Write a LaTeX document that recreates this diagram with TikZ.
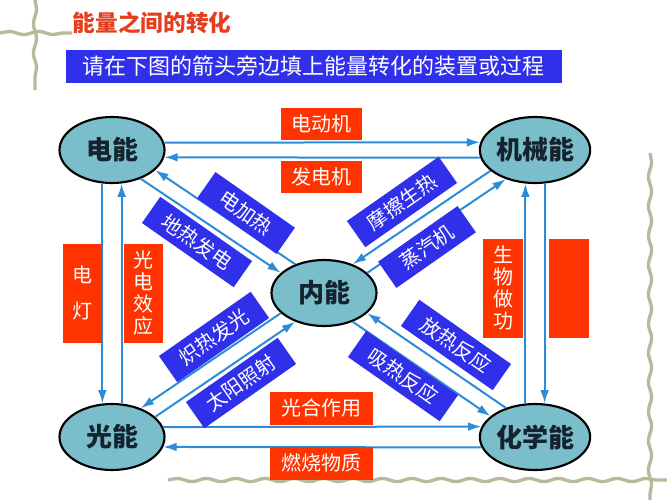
\documentclass[tikz,border=0pt]{standalone}
\usepackage{fontspec}
\newfontfamily\cjk{Noto Sans CJK SC}
\usetikzlibrary{arrows.meta,shapes.geometric,decorations.pathmorphing}
\definecolor{enfill}{RGB}{122,190,204}
\definecolor{boxred}{RGB}{255,51,0}
\definecolor{boxblue}{RGB}{48,48,235}
\definecolor{linkblue}{RGB}{45,140,215}
\definecolor{titlered}{RGB}{228,62,30}
\definecolor{framegray}{RGB}{185,185,155}
\definecolor{inkdark}{RGB}{20,35,45}
\begin{document}
\begin{tikzpicture}[x=0.75pt,y=-0.75pt,every node/.style={font=\cjk},
  energy/.style={ellipse,draw=black,line width=1.6pt,fill=enfill,minimum width=78.75pt,minimum height=49.5pt,inner sep=0pt,text=inkdark,font=\cjk\fontsize{19.5}{19.5}\selectfont\bfseries},
  redbox/.style={fill=boxred,text=white,inner sep=0pt,align=center,font=\cjk\fontsize{15}{16.5}\selectfont},
  bluebox/.style={fill=boxblue,text=white,inner sep=0pt,minimum height=24pt,font=\cjk\fontsize{15}{15}\selectfont},
  arr/.style={draw=linkblue,line width=1.5pt,-{Latex[length=10pt,width=6.5pt]}},
  wavy/.style={draw=framegray,line width=2.5pt,decorate,decoration={snake,amplitude=1.2pt,segment length=22pt}}]
\useasboundingbox (0,0) rectangle (667,500);
% frame
\draw[wavy] (35,0) -- (35,90);
\draw[wavy] (0,33) -- (72,33);
\draw[wavy] (650,153) -- (650,500);
\draw[wavy] (168,480) -- (667,480);
% title and task
\node[font=\cjk\fontsize{17}{17}\selectfont\bfseries,text=titlered] (title) at (152,23) {能量之间的转化};
\node[fill=boxblue,text=white,minimum width=372pt,minimum height=24.75pt,font=\cjk\fontsize{16.5}{16.5}\selectfont] (task) at (313.5,66.5) {请在下图的箭头旁边填上能量转化的装置或过程};
% energy forms
\node[energy] (dn) at (112,150) {电能};
\node[energy] (jx) at (535,150) {机械能};
\node[energy] (nn) at (324,293) {内能};
\node[energy] (gn) at (112,437) {光能};
\node[energy] (hx) at (535,437) {化学能};
% connectors
\foreach \s/\t in {dn.8/jx.172, jx.188/dn.-8, gn.11/hx.169, hx.191/gn.-11,
  dn.254/gn.106, gn.74/dn.286, hx.106/jx.254, jx.286/hx.74,
  nn.135/dn.-25, dn.-45/nn.155, jx.205/nn.45, nn.25/jx.225,
  nn.205/gn.45, gn.25/nn.225, hx.135/nn.-25, nn.-45/hx.155}
  \draw[arr] (\s) -- (\t);
% devices
\node[redbox,minimum width=60.75pt,minimum height=24pt] (motor) at (321,124) {电动机};
\node[redbox,minimum width=60.75pt,minimum height=24pt] (dynamo) at (321,177) {发电机};
\node[redbox,minimum width=77.25pt,minimum height=24.75pt] (photo) at (321,408) {光合作用};
\node[redbox,minimum width=77.25pt,minimum height=24.75pt] (burn) at (321,463) {燃烧物质};
\node[redbox,minimum width=29.25pt,minimum height=74.25pt,font=\cjk\fontsize{15}{27}\selectfont] (lamp) at (82,293) {电\\灯};
\node[redbox,minimum width=29.25pt,minimum height=74.25pt] (pvcell) at (143,293) {光\\电\\效\\应};
\node[redbox,minimum width=30pt,minimum height=74.25pt] (bio) at (503,288) {生\\物\\做\\功};
\node[redbox,minimum width=30pt,minimum height=74.25pt] (blank) at (569,288) {};
% processes
\node[bluebox,minimum width=72.75pt,rotate=-35] (eheat) at (246,213) {电加热};
\node[bluebox,minimum width=84pt,rotate=-35] (geo) at (197,242) {地热发电};
\node[bluebox,minimum width=84pt,rotate=35] (fric) at (402,202) {摩擦生热};
\node[bluebox,minimum width=72.75pt,rotate=35] (steam) at (427,247) {蒸汽机};
\node[bluebox,minimum width=84pt,rotate=35] (glow) at (214,337) {炽热发光};
\node[bluebox,minimum width=84pt,rotate=35] (sun) at (241,383) {太阳照射};
\node[bluebox,minimum width=84pt,rotate=-35] (exo) at (456,345) {放热反应};
\node[bluebox,minimum width=84pt,rotate=-35] (endo) at (403,376) {吸热反应};
\end{tikzpicture}
\end{document}
